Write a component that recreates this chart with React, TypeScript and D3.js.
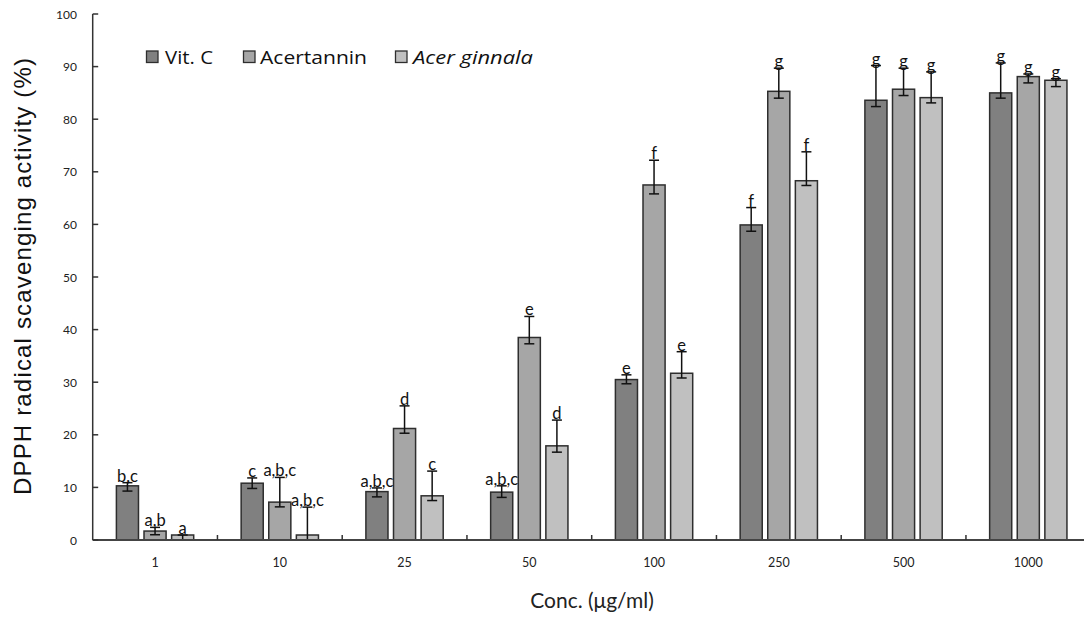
import React from "react";
import * as d3 from "d3";

const categories = ["1", "10", "25", "50", "100", "250", "500", "1000"];
const seriesNames = ["Vit. C", "Acertannin", "Acer ginnala"];

const vitC = [10.3, 10.8, 9.2, 9.1, 30.5, 59.9, 83.6, 85.0];
const vitCUp = [0.6, 1.0, 0.7, 1.2, 0.9, 3.3, 6.6, 5.7];
const vitCDown = [1.0, 1.0, 1.0, 1.0, 0.8, 1.2, 1.2, 1.0];

const acer = [1.7, 7.2, 21.2, 38.5, 67.5, 85.3, 85.7, 88.1];
const acerUp = [0.7, 4.7, 4.3, 4.0, 4.7, 4.4, 4.0, 0.5];
const acerDown = [0.7, 0.9, 0.9, 1.2, 1.7, 1.3, 1.2, 1.2];

const ginn = [0.95, 0.95, 8.4, 17.9, 31.7, 68.3, 84.1, 87.4];
const ginnUp = [0.0, 5.3, 4.7, 4.9, 4.1, 5.5, 4.9, 0.3];
const ginnDown = [0.95, 0.95, 0.9, 1.2, 0.9, 0.9, 1.0, 1.2];

const vitCLabels = ["b,c", "c", "a,b,c", "a,b,c", "e", "f", "g", "g"];
const acerLabels = ["a,b", "a,b,c", "d", "e", "f", "g", "g", "g"];
const ginnLabels = ["a", "a,b,c", "c", "d", "e", "f", "g", "g"];

const yTicks = [0, 10, 20, 30, 40, 50, 60, 70, 80, 90, 100];

const colors = ["#808080", "#a6a6a6", "#c0c0c0"];
const strokeCol = "#2e2e2e";
const calibri = "Lato, 'Open Sans', sans-serif";
const legendFont = "'Open Sans', Lato, sans-serif";

export default function App() {
  const W = 1084;
  const H = 617;
  const x0Px = 92.7;
  const catStep = 124.75;
  const y = d3.scaleLinear().domain([0, 100]).range([540, 14]);
  const x = d3
    .scaleBand<string>()
    .domain(categories)
    .range([x0Px, x0Px + catStep * categories.length])
    .paddingInner(0)
    .paddingOuter(0);
  const x1 = d3
    .scaleBand<string>()
    .domain(seriesNames)
    .range([23.7, 101])
    .paddingInner(0.2)
    .paddingOuter(0);

  const series = [
    { name: seriesNames[0], vals: vitC, up: vitCUp, down: vitCDown, labels: vitCLabels },
    { name: seriesNames[1], vals: acer, up: acerUp, down: acerDown, labels: acerLabels },
    { name: seriesNames[2], vals: ginn, up: ginnUp, down: ginnDown, labels: ginnLabels },
  ];

  const bw = x1.bandwidth();
  const capW = 10;

  const legendItems = [
    { sx: 146.5, tx: 165, italic: false, len: 48 },
    { sx: 243.5, tx: 260, italic: false, len: 107 },
    { sx: 395.5, tx: 413, italic: true, len: 120 },
  ];

  return (
    <svg
      width={W}
      height={H}
      style={{ position: "absolute", left: 0, top: 0, background: "#fff" }}
    >
      <rect x={0} y={0} width={W} height={H} fill="#fff" />
      {series.map((s, si) =>
        categories.map((c, ci) => {
          const bx = (x(c) as number) + (x1(s.name) as number);
          const v = s.vals[ci];
          return (
            <rect
              key={`b-${si}-${ci}`}
              x={bx}
              y={y(v)}
              width={bw}
              height={y(0) - y(v)}
              fill={colors[si]}
              stroke={strokeCol}
              strokeWidth={1.5}
            />
          );
        })
      )}
      {series.map((s, si) =>
        categories.map((c, ci) => {
          const cx = (x(c) as number) + (x1(s.name) as number) + bw / 2;
          const v = s.vals[ci];
          const yt = y(v + s.up[ci]);
          const yb = y(Math.max(0, v - s.down[ci]));
          return (
            <g key={`e-${si}-${ci}`} stroke="#111" strokeWidth={1.5}>
              <line x1={cx} x2={cx} y1={yt} y2={yb} />
              <line x1={cx - capW / 2} x2={cx + capW / 2} y1={yt} y2={yt} />
              <line x1={cx - capW / 2} x2={cx + capW / 2} y1={yb} y2={yb} />
            </g>
          );
        })
      )}
      {series.map((s, si) =>
        categories.map((c, ci) => {
          const cx = (x(c) as number) + (x1(s.name) as number) + bw / 2;
          const v = s.vals[ci];
          const yt = y(v + s.up[ci]);
          return (
            <text
              key={`l-${si}-${ci}`}
              x={cx}
              y={yt - 1}
              textAnchor="middle"
              fontFamily={calibri}
              fontSize={16.5}
              fill="#111"
            >
              {s.labels[ci]}
            </text>
          );
        })
      )}
      <line x1={x0Px} x2={x0Px} y1={y(100)} y2={y(0)} stroke="#333" strokeWidth={1.5} />
      <line x1={x0Px} x2={W + 10} y1={y(0)} y2={y(0)} stroke="#444" strokeWidth={2} />
      {yTicks.map((t) => (
        <g key={`yt-${t}`}>
          <line x1={x0Px} x2={x0Px + 5.5} y1={y(t)} y2={y(t)} stroke="#333" strokeWidth={1.5} />
          <text
            x={77}
            y={y(t)}
            textAnchor="end"
            dominantBaseline="central"
            fontFamily={calibri}
            fontSize={12}
            fill="#222"
          >
            {t}
          </text>
        </g>
      ))}
      {categories.map((c, ci) =>
        ci > 0 ? (
          <line
            key={`xt-${c}`}
            x1={x(c) as number}
            x2={x(c) as number}
            y1={y(0)}
            y2={y(0) - 5}
            stroke="#333"
            strokeWidth={1.5}
          />
        ) : null
      )}
      {categories.map((c) => (
        <text
          key={`xl-${c}`}
          x={(x(c) as number) + x.bandwidth() / 2}
          y={567}
          textAnchor="middle"
          fontFamily={calibri}
          fontSize={12.5}
          fill="#222"
        >
          {c}
        </text>
      ))}
      <text
        x={592}
        y={608}
        textAnchor="middle"
        fontFamily={calibri}
        fontSize={21}
        fill="#222"
      >
        Conc. (μg/ml)
      </text>
      <text
        transform={`translate(31, 276.5) rotate(-90)`}
        textAnchor="middle"
        fontFamily="'Liberation Sans', Arial, sans-serif"
        fontSize={24}
        textLength={437}
        lengthAdjust="spacing"
        fill="#111"
      >
        DPPH radical scavenging activity (%)
      </text>
      {seriesNames.map((n, i) => (
        <g key={`lg-${i}`}>
          <rect
            x={legendItems[i].sx}
            y={51}
            width={11.5}
            height={11.5}
            fill={colors[i]}
            stroke={strokeCol}
            strokeWidth={1.3}
          />
          <text
            x={legendItems[i].tx}
            y={63.5}
            fontFamily={legendFont}
            fontSize={19}
            textLength={legendItems[i].len}
            lengthAdjust="spacingAndGlyphs"
            fontStyle={legendItems[i].italic ? "italic" : "normal"}
            fill="#111"
          >
            {n}
          </text>
        </g>
      ))}
    </svg>
  );
}
